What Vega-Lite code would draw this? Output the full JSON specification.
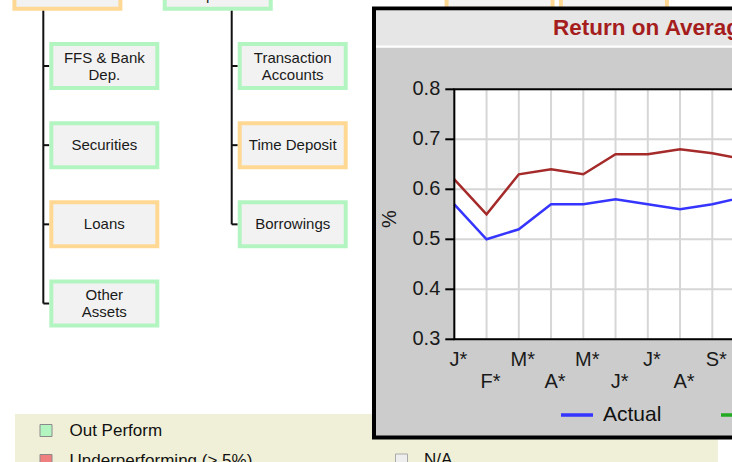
{
  "$schema": "https://vega.github.io/schema/vega-lite/v6.json",
  "width": 277.7,
  "height": 250,
  "autosize": {"type": "none"},
  "padding": {"left": 454.3, "top": 89.3, "right": 0, "bottom": 122.7},
  "background": "#ffffff",
  "config": {"view": {"stroke": null}, "font": "Liberation Sans"},
  "datasets": {
    "nodes": [
      {"label": null, "level": "parent", "col": -0.196, "row": 0, "status": "Underperforming (< 5%)"},
      {"label": "Interest\nExpense", "level": "parent", "col": 0.602, "row": 0, "status": "Out Perform"},
      {"label": null, "level": "parent", "col": 2.098, "row": 0, "status": "Underperforming (< 5%)"},
      {"label": null, "level": "parent", "col": 2.705, "row": 0, "status": "Underperforming (< 5%)"},
      {"label": "FFS & Bank\nDep.", "level": "child", "col": 0, "row": 1, "status": "Out Perform"},
      {"label": "Securities", "level": "child", "col": 0, "row": 2, "status": "Out Perform"},
      {"label": "Loans", "level": "child", "col": 0, "row": 3, "status": "Underperforming (< 5%)"},
      {"label": "Other\nAssets", "level": "child", "col": 0, "row": 4, "status": "Out Perform"},
      {"label": "Transaction\nAccounts", "level": "child", "col": 1, "row": 1, "status": "Out Perform"},
      {"label": "Time Deposit", "level": "child", "col": 1, "row": 2, "status": "Underperforming (< 5%)"},
      {"label": "Borrowings", "level": "child", "col": 1, "row": 3, "status": "Out Perform"}
    ],
    "returns": [
      {"month": "Jan", "idx": 0, "series": "Actual", "value": 0.57},
      {"month": "Feb", "idx": 1, "series": "Actual", "value": 0.50},
      {"month": "Mar", "idx": 2, "series": "Actual", "value": 0.52},
      {"month": "Apr", "idx": 3, "series": "Actual", "value": 0.57},
      {"month": "May", "idx": 4, "series": "Actual", "value": 0.57},
      {"month": "Jun", "idx": 5, "series": "Actual", "value": 0.58},
      {"month": "Jul", "idx": 6, "series": "Actual", "value": 0.57},
      {"month": "Aug", "idx": 7, "series": "Actual", "value": 0.56},
      {"month": "Sep", "idx": 8, "series": "Actual", "value": 0.57},
      {"month": "Oct", "idx": 9, "series": "Actual", "value": 0.585},
      {"month": "Jan", "idx": 0, "series": "Peer", "value": 0.62},
      {"month": "Feb", "idx": 1, "series": "Peer", "value": 0.55},
      {"month": "Mar", "idx": 2, "series": "Peer", "value": 0.63},
      {"month": "Apr", "idx": 3, "series": "Peer", "value": 0.64},
      {"month": "May", "idx": 4, "series": "Peer", "value": 0.63},
      {"month": "Jun", "idx": 5, "series": "Peer", "value": 0.67},
      {"month": "Jul", "idx": 6, "series": "Peer", "value": 0.67},
      {"month": "Aug", "idx": 7, "series": "Peer", "value": 0.68},
      {"month": "Sep", "idx": 8, "series": "Peer", "value": 0.672},
      {"month": "Oct", "idx": 9, "series": "Peer", "value": 0.66}
    ],
    "gridValues": [{"v": 0.3}, {"v": 0.4}, {"v": 0.5}, {"v": 0.6}, {"v": 0.7}, {"v": 0.8}],
    "one": [{}]
  },
  "layer": [
    {
      "layer": [
        {
          "data": {"name": "one"},
          "mark": {"type": "rect", "color": "#f0f0d8"},
          "encoding": {
            "x": {"datum": -0.474, "type": "quantitative", "scale": {"domain": [1.8577, 3.3317], "nice": false, "zero": false}, "axis": null},
            "x2": {"datum": 3.2569},
            "y": {"datum": 5.3956, "type": "quantitative", "scale": {"domain": [1.2943, 4.4521], "reverse": true, "nice": false, "zero": false}, "axis": null},
            "y2": {"datum": 6.3}
          }
        },
        {
          "data": {"name": "nodes"},
          "transform": [
            {"filter": "datum.level === 'child'"},
            {"aggregate": [{"op": "max", "field": "row", "as": "lastRow"}], "groupby": ["col"]}
          ],
          "mark": {"type": "rule", "color": "#111111", "strokeWidth": 2, "xOffset": -61},
          "encoding": {
            "x": {"field": "col", "type": "quantitative", "scale": {"domain": [1.8577, 3.3317], "nice": false, "zero": false}, "axis": null},
            "y": {"field": "lastRow", "type": "quantitative", "scale": {"domain": [1.2943, 4.4521], "reverse": true, "nice": false, "zero": false}, "axis": null},
            "y2": {"datum": 0}
          }
        },
        {
          "data": {"name": "nodes"},
          "transform": [{"filter": "datum.level === 'child'"}],
          "mark": {"type": "rule", "color": "#111111", "strokeWidth": 2, "xOffset": -61, "x2Offset": -55},
          "encoding": {
            "x": {"field": "col", "type": "quantitative", "scale": {"domain": [1.8577, 3.3317], "nice": false, "zero": false}, "axis": null},
            "x2": {"field": "col"},
            "y": {"field": "row", "type": "quantitative", "scale": {"domain": [1.2943, 4.4521], "reverse": true, "nice": false, "zero": false}, "axis": null}
          }
        },
        {
          "data": {"name": "nodes"},
          "mark": {"type": "rect", "xOffset": -55, "x2Offset": 55, "yOffset": -24, "y2Offset": 24},
          "encoding": {
            "x": {"field": "col", "type": "quantitative", "scale": {"domain": [1.8577, 3.3317], "nice": false, "zero": false}, "axis": null},
            "x2": {"field": "col"},
            "y": {"field": "row", "type": "quantitative", "scale": {"domain": [1.2943, 4.4521], "reverse": true, "nice": false, "zero": false}, "axis": null},
            "y2": {"field": "row"},
            "color": {
              "field": "status",
              "type": "nominal",
              "scale": {
                "domain": ["Out Perform", "Underperforming (< 5%)", "Underperforming (> 5%)", "N/A"],
                "range": ["#b3f5c1", "#ffd894", "#f08080", "#eeeeee"]
              },
              "legend": {
                "orient": "none",
                "legendX": -416.8,
                "legendY": 332.7,
                "direction": "vertical",
                "values": ["Out Perform", "Underperforming (> 5%)"],
                "title": null,
                "padding": 0,
                "symbolType": "square",
                "symbolSize": 144,
                "symbolStrokeWidth": 1,
                "symbolStrokeColor": "#8a8a8a",
                "symbolOpacity": 1,
                "labelFontSize": 17,
                "labelColor": "#111111",
                "labelOffset": 15,
                "labelLimit": 300,
                "rowPadding": 12
              }
            }
          }
        },
        {
          "data": {"name": "one"},
          "mark": {"type": "rect"},
          "encoding": {
            "x": {"datum": -0.474, "type": "quantitative", "scale": {"domain": [1.8577, 3.3317], "nice": false, "zero": false}, "axis": null},
            "x2": {"datum": -0.474},
            "y": {"datum": 5.5, "type": "quantitative", "scale": {"domain": [1.2943, 4.4521], "reverse": true, "nice": false, "zero": false}, "axis": null},
            "y2": {"datum": 5.5},
            "color": {
              "datum": "N/A",
              "type": "nominal",
              "scale": {"domain": ["N/A"], "range": ["#eeeeee"]},
              "legend": {
                "orient": "none",
                "legendX": -61.3,
                "legendY": 362.2,
                "direction": "vertical",
                "title": null,
                "padding": 0,
                "symbolType": "square",
                "symbolSize": 144,
                "symbolStrokeWidth": 1,
                "symbolStrokeColor": "#aaaaaa",
                "symbolOpacity": 1,
                "labelFontSize": 17,
                "labelColor": "#111111",
                "labelOffset": 14
              }
            }
          }
        },
        {
          "data": {"name": "nodes"},
          "mark": {"type": "rect", "color": "#f2f2f2", "xOffset": -51, "x2Offset": 51, "yOffset": -20, "y2Offset": 20},
          "encoding": {
            "x": {"field": "col", "type": "quantitative", "scale": {"domain": [1.8577, 3.3317], "nice": false, "zero": false}, "axis": null},
            "x2": {"field": "col"},
            "y": {"field": "row", "type": "quantitative", "scale": {"domain": [1.2943, 4.4521], "reverse": true, "nice": false, "zero": false}, "axis": null},
            "y2": {"field": "row"}
          }
        },
        {
          "data": {"name": "nodes"},
          "transform": [{"filter": "datum.label != null && indexof(datum.label, '\\n') < 0"}],
          "mark": {"type": "text", "fontSize": 15, "color": "#1a1a1a", "align": "center", "baseline": "middle"},
          "encoding": {
            "x": {"field": "col", "type": "quantitative", "scale": {"domain": [1.8577, 3.3317], "nice": false, "zero": false}, "axis": null},
            "y": {"field": "row", "type": "quantitative", "scale": {"domain": [1.2943, 4.4521], "reverse": true, "nice": false, "zero": false}, "axis": null},
            "text": {"field": "label"}
          }
        },
        {
          "data": {"name": "nodes"},
          "transform": [{"filter": "datum.label != null && indexof(datum.label, '\\n') >= 0"}],
          "mark": {"type": "text", "fontSize": 15, "color": "#1a1a1a", "align": "center", "baseline": "middle", "lineBreak": "\n", "lineHeight": 17, "dy": -8.5},
          "encoding": {
            "x": {"field": "col", "type": "quantitative", "scale": {"domain": [1.8577, 3.3317], "nice": false, "zero": false}, "axis": null},
            "y": {"field": "row", "type": "quantitative", "scale": {"domain": [1.2943, 4.4521], "reverse": true, "nice": false, "zero": false}, "axis": null},
            "text": {"field": "label"}
          }
        }
      ],
      "resolve": {"scale": {"color": "independent"}, "legend": {"color": "independent"}}
    },
    {
      "layer": [
        {
          "data": {"name": "one"},
          "mark": {"type": "rect", "fill": "#cccccc", "stroke": "#000000", "strokeWidth": 4},
          "encoding": {
            "x": {"datum": -2.49, "type": "quantitative", "scale": {"domain": [0, 8.611], "nice": false, "zero": false}, "axis": null},
            "x2": {"datum": 12},
            "y": {"datum": 0.9616, "type": "quantitative", "scale": {"domain": [0.3, 0.8], "nice": false, "zero": false}, "axis": null},
            "y2": {"datum": 0.1036}
          }
        },
        {
          "data": {"name": "one"},
          "mark": {"type": "rect", "fill": "#e6e6e6"},
          "encoding": {
            "x": {"datum": -2.428, "type": "quantitative", "scale": {"domain": [0, 8.611], "nice": false, "zero": false}, "axis": null},
            "x2": {"datum": 12},
            "y": {"datum": 0.9576, "type": "quantitative", "scale": {"domain": [0.3, 0.8], "nice": false, "zero": false}, "axis": null},
            "y2": {"datum": 0.8886}
          }
        },
        {
          "data": {"name": "one"},
          "mark": {"type": "rule", "color": "#ffffff", "strokeWidth": 2.5},
          "encoding": {
            "x": {"datum": -2.428, "type": "quantitative", "scale": {"domain": [0, 8.611], "nice": false, "zero": false}, "axis": null},
            "x2": {"datum": 12},
            "y": {"datum": 0.8856, "type": "quantitative", "scale": {"domain": [0.3, 0.8], "nice": false, "zero": false}, "axis": null}
          }
        },
        {
          "data": {"name": "one"},
          "mark": {"type": "text", "text": "Return on Average Assets", "fontSize": 22.5, "fontWeight": "bold", "color": "#a51d1d", "align": "left", "baseline": "middle"},
          "encoding": {
            "x": {"datum": 3.06, "type": "quantitative", "scale": {"domain": [0, 8.611], "nice": false, "zero": false}, "axis": null},
            "y": {"datum": 0.9226, "type": "quantitative", "scale": {"domain": [0.3, 0.8], "nice": false, "zero": false}, "axis": null}
          }
        },
        {
          "data": {"name": "one"},
          "mark": {"type": "rect", "fill": "#ffffff"},
          "encoding": {
            "x": {"datum": 0, "type": "quantitative", "scale": {"domain": [0, 8.611], "nice": false, "zero": false}, "axis": null},
            "x2": {"datum": 12},
            "y": {"datum": 0.3, "type": "quantitative", "scale": {"domain": [0.3, 0.8], "nice": false, "zero": false}, "axis": null},
            "y2": {"datum": 0.8}
          }
        },
        {
          "data": {"name": "returns"},
          "transform": [{"filter": "datum.series === 'Actual'"}],
          "mark": {"type": "rule", "color": "#d6d6d6", "strokeWidth": 2},
          "encoding": {
            "x": {"field": "idx", "type": "quantitative", "scale": {"domain": [0, 8.611], "nice": false, "zero": false}, "axis": null},
            "y": {"datum": 0.3, "type": "quantitative", "scale": {"domain": [0.3, 0.8], "nice": false, "zero": false}, "axis": null},
            "y2": {"datum": 0.8}
          }
        },
        {
          "data": {"name": "gridValues"},
          "mark": {"type": "rule", "color": "#d6d6d6", "strokeWidth": 2},
          "encoding": {
            "x": {"datum": 0, "type": "quantitative", "scale": {"domain": [0, 8.611], "nice": false, "zero": false}, "axis": null},
            "x2": {"datum": 12},
            "y": {"field": "v", "type": "quantitative", "scale": {"domain": [0.3, 0.8], "nice": false, "zero": false}, "axis": null}
          }
        },
        {
          "data": {"name": "returns"},
          "mark": {"type": "line", "strokeWidth": 2.5},
          "encoding": {
            "x": {"field": "idx", "type": "quantitative", "scale": {"domain": [0, 8.611], "nice": false, "zero": false}, "axis": null},
            "y": {"field": "value", "type": "quantitative", "scale": {"domain": [0.3, 0.8], "nice": false, "zero": false}, "axis": null},
            "color": {
              "field": "series",
              "type": "nominal",
              "scale": {"domain": ["Actual", "Budget", "Peer"], "range": ["#3535ff", "#22aa22", "#a52a2a"]},
              "legend": {
                "orient": "none",
                "legendX": 104.7,
                "legendY": 307.7,
                "direction": "horizontal",
                "title": null,
                "padding": 0,
                "symbolType": "stroke",
                "symbolSize": 1024,
                "symbolStrokeWidth": 3.5,
                "labelFontSize": 21,
                "labelColor": "#111111",
                "labelOffset": 8,
                "columnPadding": 52
              }
            }
          }
        },
        {
          "data": {"name": "one"},
          "mark": {"type": "rect", "fillOpacity": 0, "fill": "#ffffff", "stroke": "#000000", "strokeWidth": 2},
          "encoding": {
            "x": {"datum": 0, "type": "quantitative", "scale": {"domain": [0, 8.611], "nice": false, "zero": false}, "axis": null},
            "x2": {"datum": 12},
            "y": {"datum": 0.3, "type": "quantitative", "scale": {"domain": [0.3, 0.8], "nice": false, "zero": false}, "axis": null},
            "y2": {"datum": 0.8}
          }
        },
        {
          "data": {"name": "gridValues"},
          "mark": {"type": "rule", "color": "#000000", "strokeWidth": 2, "xOffset": -9},
          "encoding": {
            "x": {"datum": 0, "type": "quantitative", "scale": {"domain": [0, 8.611], "nice": false, "zero": false}, "axis": null},
            "x2": {"datum": 0},
            "y": {"field": "v", "type": "quantitative", "scale": {"domain": [0.3, 0.8], "nice": false, "zero": false}, "axis": null}
          }
        },
        {
          "data": {"name": "gridValues"},
          "mark": {"type": "text", "fontSize": 20, "color": "#1a1a1a", "align": "right", "baseline": "middle", "dx": -14},
          "encoding": {
            "x": {"datum": 0, "type": "quantitative", "scale": {"domain": [0, 8.611], "nice": false, "zero": false}, "axis": null},
            "y": {"field": "v", "type": "quantitative", "scale": {"domain": [0.3, 0.8], "nice": false, "zero": false}, "axis": null},
            "text": {"field": "v", "type": "quantitative", "format": ".1f"}
          }
        },
        {
          "data": {"name": "returns"},
          "transform": [
            {"filter": "datum.series === 'Actual' && datum.idx % 2 === 0"},
            {"calculate": "substring(datum.month, 0, 1) + '*'", "as": "tickLabel"}
          ],
          "mark": {"type": "text", "fontSize": 20, "color": "#1a1a1a", "align": "center", "baseline": "top", "dx": 4, "dy": 11},
          "encoding": {
            "x": {"field": "idx", "type": "quantitative", "scale": {"domain": [0, 8.611], "nice": false, "zero": false}, "axis": null},
            "y": {"datum": 0.3, "type": "quantitative", "scale": {"domain": [0.3, 0.8], "nice": false, "zero": false}, "axis": null},
            "text": {"field": "tickLabel"}
          }
        },
        {
          "data": {"name": "returns"},
          "transform": [
            {"filter": "datum.series === 'Actual' && datum.idx % 2 === 1"},
            {"calculate": "substring(datum.month, 0, 1) + '*'", "as": "tickLabel"}
          ],
          "mark": {"type": "text", "fontSize": 20, "color": "#1a1a1a", "align": "center", "baseline": "top", "dx": 4, "dy": 32.5},
          "encoding": {
            "x": {"field": "idx", "type": "quantitative", "scale": {"domain": [0, 8.611], "nice": false, "zero": false}, "axis": null},
            "y": {"datum": 0.3, "type": "quantitative", "scale": {"domain": [0.3, 0.8], "nice": false, "zero": false}, "axis": null},
            "text": {"field": "tickLabel"}
          }
        },
        {
          "data": {"name": "one"},
          "mark": {"type": "text", "text": "%", "fontSize": 20, "color": "#1a1a1a", "align": "center", "baseline": "middle", "angle": 270},
          "encoding": {
            "x": {"datum": -1.994, "type": "quantitative", "scale": {"domain": [0, 8.611], "nice": false, "zero": false}, "axis": null},
            "y": {"datum": 0.5406, "type": "quantitative", "scale": {"domain": [0.3, 0.8], "nice": false, "zero": false}, "axis": null}
          }
        }
      ]
    }
  ],
  "resolve": {
    "scale": {"x": "independent", "y": "independent", "color": "independent"},
    "legend": {"color": "independent"}
  }
}
